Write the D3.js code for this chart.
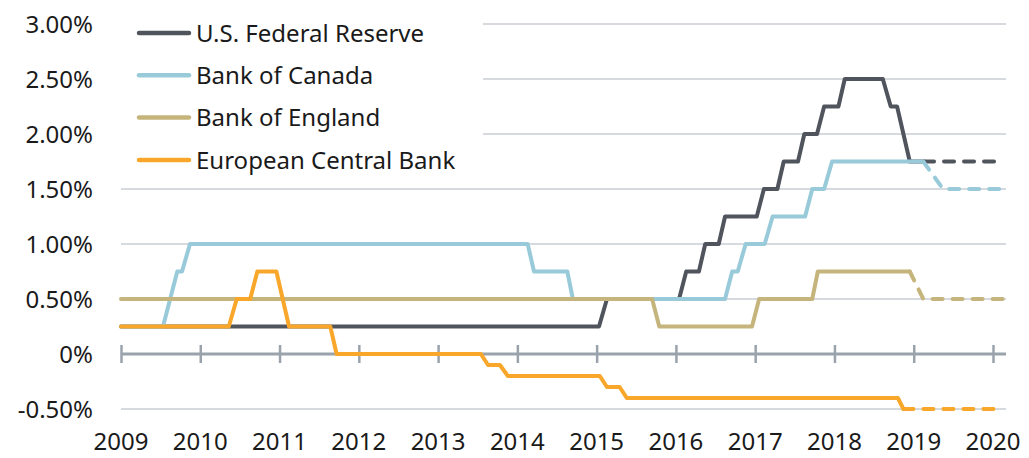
<!DOCTYPE html>
<html>
<head>
<meta charset="utf-8">
<script src="https://cdn.jsdelivr.net/npm/d3@7"></script>
<style>
  body { margin: 0; background: #fff; }
  text { font-family: "Noto Sans", sans-serif; fill: #1a1a1a; }
</style>
</head>
<body>
<div id="chart"></div>
<script>
// Policy rates (%), time as decimal years
var fedActual = [[2009, 0.25], [2015.03, 0.25], [2015.13, 0.5], [2016.04, 0.5], [2016.13, 0.75], [2016.29, 0.75],
    [2016.37, 1.0], [2016.54, 1.0], [2016.62, 1.25], [2017.02, 1.25], [2017.11, 1.5], [2017.28, 1.5],
    [2017.36, 1.75], [2017.54, 1.75], [2017.62, 2.0], [2017.78, 2.0], [2017.87, 2.25], [2018.05, 2.25],
    [2018.13, 2.5], [2018.61, 2.5], [2018.71, 2.25], [2018.79, 2.25], [2018.95, 1.75], [2019.13, 1.75]];
var fedForecast = [[2019.13, 1.75], [2020.13, 1.75]];

var canadaActual = [[2009, 0.25], [2009.53, 0.25], [2009.71, 0.75], [2009.77, 0.75], [2009.87, 1.0], [2014.13, 1.0],
    [2014.21, 0.75], [2014.63, 0.75], [2014.70, 0.5], [2016.62, 0.5], [2016.71, 0.75], [2016.78, 0.75],
    [2016.88, 1.0], [2017.12, 1.0], [2017.22, 1.25], [2017.63, 1.25], [2017.72, 1.5], [2017.87, 1.5],
    [2017.97, 1.75], [2019.12, 1.75]];
var canadaForecast = [[2019.12, 1.75], [2019.37, 1.5], [2020.13, 1.5]];

var englandActual = [[2009, 0.5], [2015.70, 0.5], [2015.79, 0.25], [2016.96, 0.25], [2017.05, 0.5], [2017.72, 0.5],
    [2017.79, 0.75], [2018.95, 0.75]];
var englandForecast = [[2018.95, 0.75], [2019.12, 0.5], [2020.13, 0.5]];

var ecbActual = [[2009, 0.25], [2010.36, 0.25], [2010.46, 0.5], [2010.63, 0.5], [2010.72, 0.75], [2010.96, 0.75],
    [2011.12, 0.25], [2011.64, 0.25], [2011.72, 0], [2013.54, 0], [2013.63, -0.1], [2013.78, -0.1],
    [2013.88, -0.2], [2015.04, -0.2], [2015.13, -0.3], [2015.29, -0.3], [2015.38, -0.4], [2018.80, -0.4],
    [2018.87, -0.5]];
var ecbForecast = [[2018.87, -0.5], [2020.13, -0.5]];

var seriesNames = ["U.S. Federal Reserve", "Bank of Canada", "Bank of England", "European Central Bank"];
var seriesColors = ["#50545d", "#98cad9", "#c5b57c", "#f9a72b"];
var yTicks = [3.0, 2.5, 2.0, 1.5, 1.0, 0.5, 0, -0.5];
var yTickLabels = ["3.00%", "2.50%", "2.00%", "1.50%", "1.00%", "0.50%", "0%", "-0.50%"];
var xTicks = [2009, 2010, 2011, 2012, 2013, 2014, 2015, 2016, 2017, 2018, 2019, 2020];

var series = [
    {name: seriesNames[0], color: seriesColors[0], actual: fedActual, forecast: fedForecast},
    {name: seriesNames[1], color: seriesColors[1], actual: canadaActual, forecast: canadaForecast},
    {name: seriesNames[2], color: seriesColors[2], actual: englandActual, forecast: englandForecast},
    {name: seriesNames[3], color: seriesColors[3], actual: ecbActual, forecast: ecbForecast}
];

var svgWidth = 1029;
var svgHeight = 458;
var plotLeft = 121;
var plotRight = 1006;

var svg = d3.select("#chart")
    .append("svg")
    .attr("width", svgWidth)
    .attr("height", svgHeight);

var x = d3.scaleLinear().domain([2009, 2020]).range([121, 993]);
var y = d3.scaleLinear().domain([-0.5, 3.0]).range([409, 24]);

// Gridlines
svg.append("g")
    .selectAll("line")
    .data(yTicks.filter(d => d !== 0))
    .enter()
    .append("line")
    .attr("x1", plotLeft)
    .attr("x2", plotRight)
    .attr("y1", d => y(d))
    .attr("y2", d => y(d))
    .attr("stroke", "#c9ced4")
    .attr("stroke-width", 1.5);

// Y labels
svg.append("g")
    .selectAll("text")
    .data(yTicks)
    .enter()
    .append("text")
    .attr("x", 93)
    .attr("y", d => y(d))
    .attr("dy", "0.36em")
    .attr("text-anchor", "end")
    .style("font-size", "24px")
    .text((d, i) => yTickLabels[i]);

// Zero axis with ticks
var xAxis = d3.axisBottom(x)
    .tickValues(xTicks)
    .tickSize(0)
    .tickFormat("");
var axisG = svg.append("g")
    .attr("transform", `translate(0, ${y(0)})`)
    .call(xAxis);
axisG.select(".domain").remove();
axisG.append("line")
    .attr("x1", plotLeft)
    .attr("x2", plotRight)
    .attr("stroke", "#9aa3ac")
    .attr("stroke-width", 3);
axisG.selectAll(".tick line")
    .attr("y1", -9)
    .attr("y2", 9)
    .attr("stroke", "#9aa3ac")
    .attr("stroke-width", 2.5);

// Year labels
svg.append("g")
    .selectAll("text")
    .data(xTicks)
    .enter()
    .append("text")
    .attr("x", d => x(d))
    .attr("y", 450)
    .attr("text-anchor", "middle")
    .style("font-size", "24px")
    .text(d => d);

var line = d3.line()
    .x(d => x(d[0]))
    .y(d => y(d[1]));

// Legend background hides gridlines behind it
svg.append("rect")
    .attr("x", plotLeft)
    .attr("y", 4)
    .attr("width", 362)
    .attr("height", 176)
    .attr("fill", "#fff");

var lineGroup = svg.append("g")
    .attr("fill", "none")
    .attr("stroke-width", 4)
    .attr("stroke-linecap", "round")
    .attr("stroke-linejoin", "round");

series.forEach(s => {
    lineGroup.append("path")
        .attr("d", line(s.forecast))
        .attr("stroke", s.color)
        .attr("stroke-dasharray", "10,10");
    lineGroup.append("path")
        .attr("d", line(s.actual))
        .attr("stroke", s.color);
});

// Legend
var legend = svg.append("g");
var legendRows = legend.selectAll("g")
    .data(series)
    .enter()
    .append("g")
    .attr("transform", (d, i) => `translate(0, ${33 + i * 42.3})`);
legendRows.append("line")
    .attr("x1", 139)
    .attr("x2", 189)
    .attr("stroke", d => d.color)
    .attr("stroke-width", 4.5)
    .attr("stroke-linecap", "round");
legendRows.append("text")
    .attr("x", 196)
    .attr("dy", "0.36em")
    .style("font-size", "24px")
    .text(d => d.name);
</script>
</body>
</html>
